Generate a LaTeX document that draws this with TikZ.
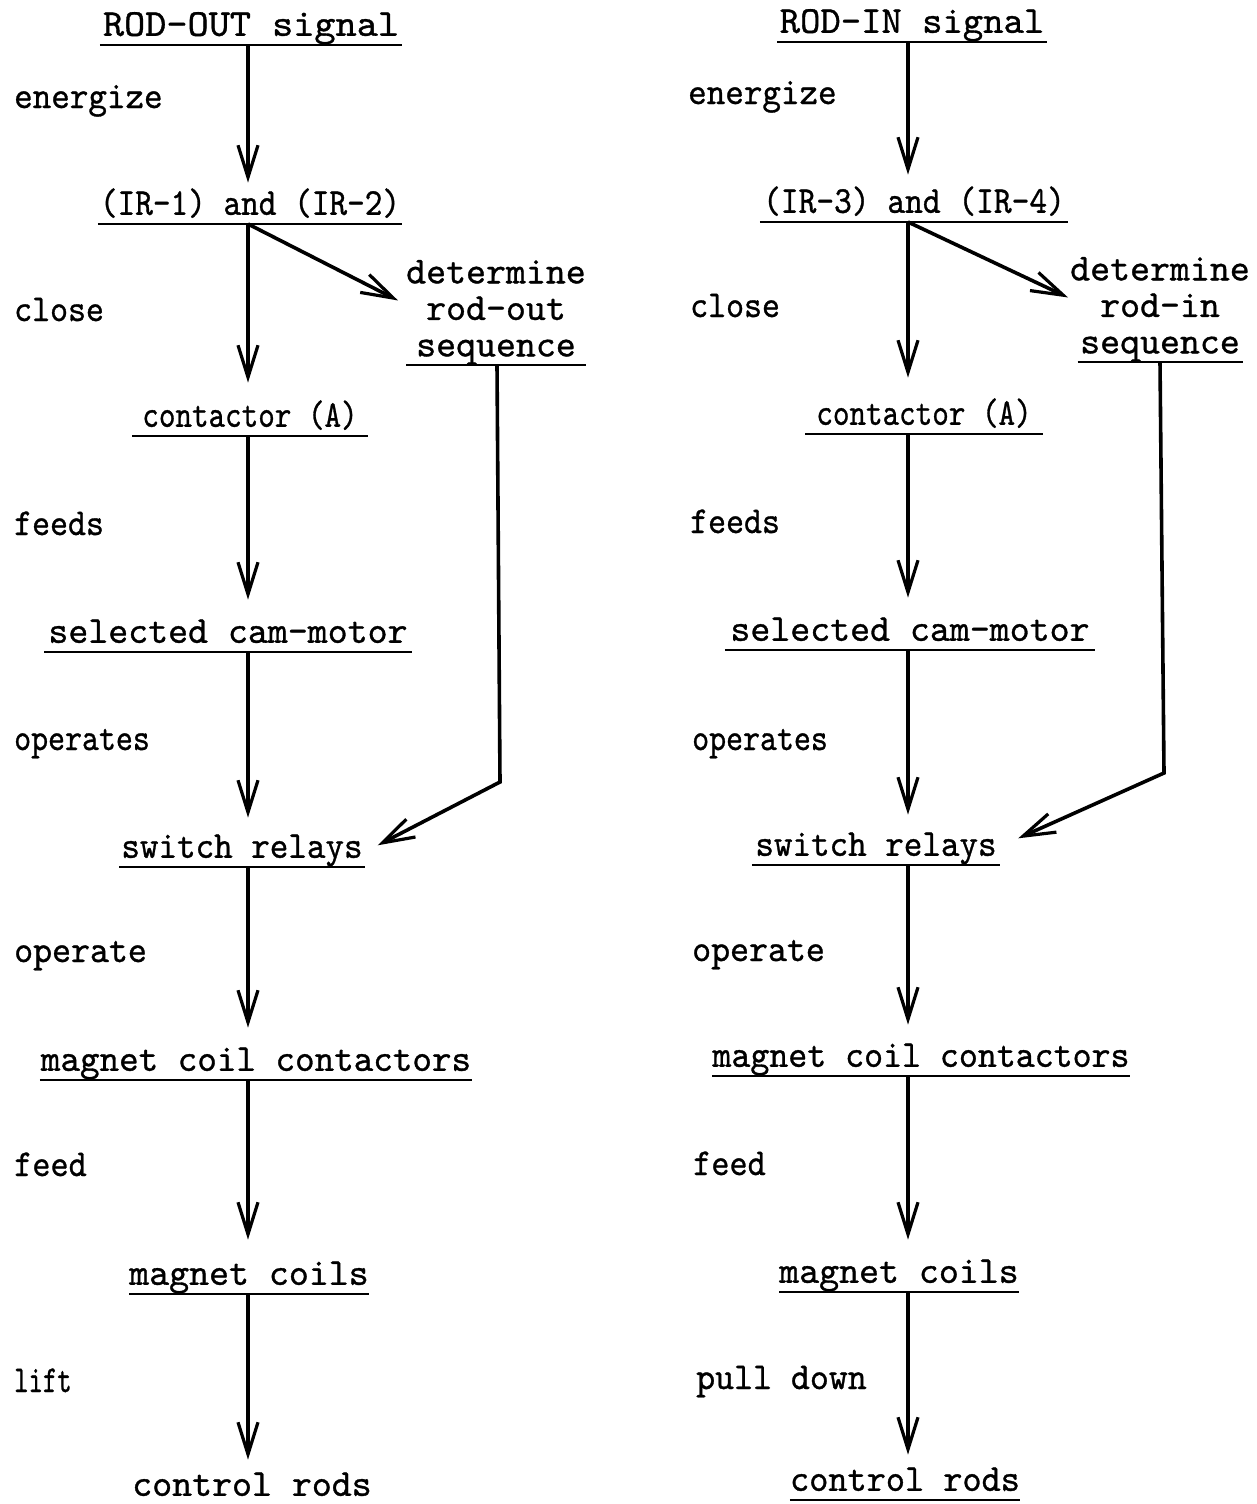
\documentclass[tikz,border=0pt]{standalone}
\usepackage{fontspec}
\usepackage{graphicx}
\usetikzlibrary{arrows.meta}
\newfontfamily\tw{lmmono10-regular.otf}[FakeBold=0.9]
\newcommand\fs{\tw\fontsize{38}{36.5}\selectfont}
\newcommand\sx[2]{\scalebox{#1}[1]{#2}}
\tikzset{
  box/.style={font=\fs, inner sep=0pt, anchor=south, text height=28pt, text depth=9pt},
  det/.style={font=\fs, inner sep=0pt, anchor=south, align=center},
  word/.style={font=\fs, inner sep=0pt, anchor=base west},
  ul/.style={line width=2.2pt},
  arr/.style={line width=3.6pt, -{Straight Barb[length=32pt,width=20pt,line width=3.2pt]}},
}
\begin{document}
\begin{tikzpicture}[x=1pt,y=-1pt]
\useasboundingbox (0,0) rectangle (1256,1504);
\coordinate (axL) at (248,0);
\coordinate (axR) at (908,0);
\coordinate (bendL) at (500,782);
\coordinate (bendR) at (1164,773);

% ---------------- left column ----------------
\node[box,minimum width=302pt] (rodout) at (251,45) {\sx{1.06}{ROD-OUT signal}};
\node[box,minimum width=304pt] (ir12) at (250,224) {\sx{0.885}{(IR-1) and (IR-2)}};
\node[det] (detL) at (496,365) {determine\\rod-out\\sequence};
\node[box,minimum width=235pt] (contL) at (250,436) {\sx{0.83}{contactor (A)}};
\node[box,minimum width=367pt] (camL) at (228,652) {selected cam-motor};
\node[box,minimum width=245pt] (swL) at (242,867) {\sx{0.93}{switch relays}};
\node[box,minimum width=432pt] (mccL) at (256,1080) {\sx{0.98}{magnet coil contactors}};
\node[box,minimum width=232pt] (mcL) at (249,1294) {magnet coils};
\node[box] (crL) at (252,1505) {control rods};

\node[word] (l1) at (14,108) {\sx{0.93}{energize}};
\node[word] (l2) at (14,321) {\sx{0.9}{close}};
\node[word] (l3) at (14,535) {\sx{0.9}{feeds}};
\node[word] (l4) at (14,750) {\sx{0.85}{operates}};
\node[word] (l5) at (14,962) {\sx{0.95}{operate}};
\node[word] (l6) at (14,1176) {\sx{0.91}{feed}};
\node[word] (l7) at (14,1392) {\sx{0.72}{lift}};

\foreach \n in {rodout,ir12,contL,camL,swL,mccL,mcL}
  \draw[ul] (\n.south west) -- (\n.south east);
\draw[ul] ([xshift=-90pt]detL.south) -- ([xshift=90pt]detL.south);

\draw[arr,shorten >=4pt] (axL |- rodout.south) -- (axL |- ir12.north);
\draw[arr,shorten >=16pt] (axL |- ir12.south) -- (axL |- contL.north);
\draw[arr] (axL |- ir12.south) -- ([xshift=-8pt,yshift=12pt]detL.west);
\draw[arr,shorten >=15pt] (axL |- contL.south) -- (axL |- camL.north);
\draw[arr,shorten >=12pt] (axL |- camL.south) -- (axL |- swL.north);
\draw[arr] ([xshift=1pt]detL.south) -- (bendL) -- ([xshift=13pt,yshift=3pt]swL.east);
\draw[arr,shorten >=15pt] (axL |- swL.south) -- (axL |- mccL.north);
\draw[arr,shorten >=17pt] (axL |- mccL.south) -- (axL |- mcL.north);
\draw[arr,shorten >=8pt] (axL |- mcL.south) -- (axL |- crL.north);

% ---------------- right column ----------------
\node[box,minimum width=269pt] (rodin) at (912,42) {\sx{1.02}{ROD-IN signal}};
\node[box,minimum width=308pt] (ir34) at (914,222) {\sx{0.89}{(IR-3) and (IR-4)}};
\node[det] (detR) at (1160,362) {determine\\rod-in\\sequence};
\node[box,minimum width=237pt] (contR) at (924,434) {\sx{0.83}{contactor (A)}};
\node[box,minimum width=370pt] (camR) at (910,650) {selected cam-motor};
\node[box,minimum width=248pt] (swR) at (876,865) {\sx{0.93}{switch relays}};
\node[box,minimum width=412pt] (mccR) at (921,1076) {\sx{0.95}{magnet coil contactors}};
\node[box,minimum width=232pt] (mcR) at (899,1292) {magnet coils};
\node[box,minimum width=230pt] (crR) at (905,1500) {\sx{0.96}{control rods}};

\node[word] (r1) at (688,104) {\sx{0.93}{energize}};
\node[word] (r2) at (690,317) {\sx{0.9}{close}};
\node[word] (r3) at (690,533) {\sx{0.9}{feeds}};
\node[word] (r4) at (692,750) {\sx{0.85}{operates}};
\node[word] (r5) at (692,961) {\sx{0.95}{operate}};
\node[word] (r6) at (693,1175) {\sx{0.91}{feed}};
\node[word] (r7) at (696,1389) {\sx{0.95}{pull down}};

\foreach \n in {rodin,ir34,contR,camR,swR,mccR,mcR,crR}
  \draw[ul] (\n.south west) -- (\n.south east);
\draw[ul] ([xshift=-82.5pt]detR.south) -- ([xshift=82.5pt]detR.south);

\draw[arr,shorten >=10pt] (axR |- rodin.south) -- (axR |- ir34.north);
\draw[arr,shorten >=19pt] (axR |- ir34.south) -- (axR |- contR.north);
\draw[arr] (axR |- ir34.south) -- ([xshift=-2pt,yshift=12pt]detR.west);
\draw[arr,shorten >=15pt] (axR |- contR.south) -- (axR |- camR.north);
\draw[arr,shorten >=13pt] (axR |- camR.south) -- (axR |- swR.north);
\draw[arr] (detR.south) -- (bendR) -- ([xshift=18pt,yshift=8pt]swR.east);
\draw[arr,shorten >=14pt] (axR |- swR.south) -- (axR |- mccR.north);
\draw[arr,shorten >=15pt] (axR |- mccR.south) -- (axR |- mcR.north);
\draw[arr,shorten >=8pt] (axR |- mcR.south) -- (axR |- crR.north);
\end{tikzpicture}
\end{document}
